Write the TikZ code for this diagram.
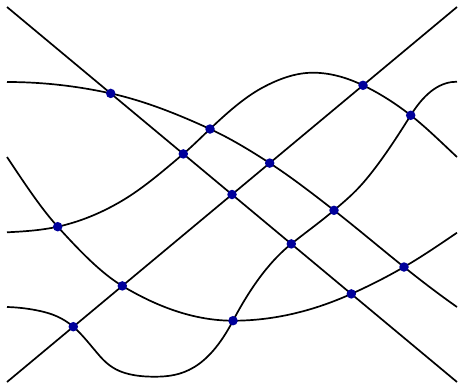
\documentclass[tikz,border=0pt]{standalone}
\definecolor{dotblue}{RGB}{0,0,155}
% Hermite segment: x0 y0 slope0 x1 y1 slope1
\newcommand\hseg[6]{.. controls ({#1+(#4-#1)/3},{#2+(#3)*(#4-#1)/3}) and ({#4-(#4-#1)/3},{#5-(#6)*(#4-#1)/3}) .. (#4,#5)}
\begin{document}
\begin{tikzpicture}[x=1pt,y=-1pt,
  curve/.style={line width=1.7pt, black},
  dot/.style={circle, fill=dotblue, inner sep=0pt, minimum size=9.5pt}]
\useasboundingbox (0,0) rectangle (458,383);
% line end points
\coordinate (A0) at (7,7);   \coordinate (A1) at (457,382);
\coordinate (B0) at (7,382); \coordinate (B1) at (457,7);
% intersection points
\coordinate (aC1) at (110.7,93.4);
\coordinate (aC3) at (183.3,153.9);
\coordinate (aB)  at (232,194.5);
\coordinate (aC4) at (291.3,243.9);
\coordinate (aC2) at (351.3,293.9);
\coordinate (bC4) at (73.3,326.7);
\coordinate (bC2) at (122.3,285.9);
\coordinate (bC1) at (269.7,163.1);
\coordinate (bC3) at (363,85.3);
\coordinate (c1c3) at (210,129);
\coordinate (c3c4) at (410.7,115.3);
\coordinate (c2c3) at (57.7,226.7);
\coordinate (c1c4) at (334,210.3);
\coordinate (c1c2) at (404,267);
\coordinate (c2c4) at (233,320.7);
% straight lines
\draw[curve] (A0) -- (A1);
\draw[curve] (B0) -- (B1);
% curve 1
\draw[curve] (7,82)
  \hseg{7}{82}{0}{110.7}{93.4}{0.22}
  \hseg{110.7}{93.4}{0.22}{210}{129}{0.46}
  \hseg{210}{129}{0.46}{269.7}{163.1}{0.65}
  \hseg{269.7}{163.1}{0.65}{334}{210.3}{0.78}
  \hseg{334}{210.3}{0.78}{404}{267}{0.80}
  \hseg{404}{267}{0.80}{457}{307}{0.70};
% curve 2
\draw[curve] (7,157)
  \hseg{7}{157}{1.5}{57.7}{226.7}{1.1}
  \hseg{57.7}{226.7}{1.1}{122.3}{285.9}{0.6}
  \hseg{122.3}{285.9}{0.6}{233}{320.7}{0}
  \hseg{233}{320.7}{0}{351.3}{293.9}{-0.45}
  \hseg{351.3}{293.9}{-0.45}{404}{267}{-0.58}
  \hseg{404}{267}{-0.58}{457}{232.7}{-0.68};
% curve 3
\draw[curve] (7,232.3)
  \hseg{7}{232.3}{-0.05}{57.7}{226.7}{-0.22}
  \hseg{57.7}{226.7}{-0.22}{123.3}{200}{-0.6}
  \hseg{123.3}{200}{-0.6}{183.3}{153.9}{-0.85}
  \hseg{183.3}{153.9}{-0.85}{210}{129}{-0.95}
  \hseg{210}{129}{-0.95}{261.3}{88.3}{-0.55}
  \hseg{261.3}{88.3}{-0.55}{313}{72.7}{0}
  \hseg{313}{72.7}{0}{363}{85.3}{0.48}
  \hseg{363}{85.3}{0.48}{410.7}{115.3}{0.78}
  \hseg{410.7}{115.3}{0.78}{457}{157}{0.93};
% curve 4
\draw[curve] (7,307)
  \hseg{7}{307}{0.03}{40}{311}{0.22}
  \hseg{40}{311}{0.22}{73.3}{326.7}{0.85}
  \hseg{73.3}{326.7}{0.85}{100}{356.3}{1.15}
  \hseg{100}{356.3}{1.15}{125}{373}{0.3}
  \hseg{125}{373}{0.3}{155}{376.7}{0}
  \hseg{155}{376.7}{0}{233}{320.7}{-1.9}
  \hseg{233}{320.7}{-1.9}{291.3}{243.9}{-0.8}
  \hseg{291.3}{243.9}{-0.8}{334}{210.3}{-0.85}
  \hseg{334}{210.3}{-0.85}{363}{183}{-1.15}
  \hseg{363}{183}{-1.15}{410.7}{115.3}{-1.6}
  \hseg{410.7}{115.3}{-1.6}{457}{81.7}{0};
% dots
\foreach \p in {aC1,aC3,aB,aC4,aC2,bC4,bC2,bC1,bC3,c1c3,c3c4,c2c3,c1c4,c1c2,c2c4}
  \node[dot] (d-\p) at (\p) {};
\end{tikzpicture}
\end{document}
